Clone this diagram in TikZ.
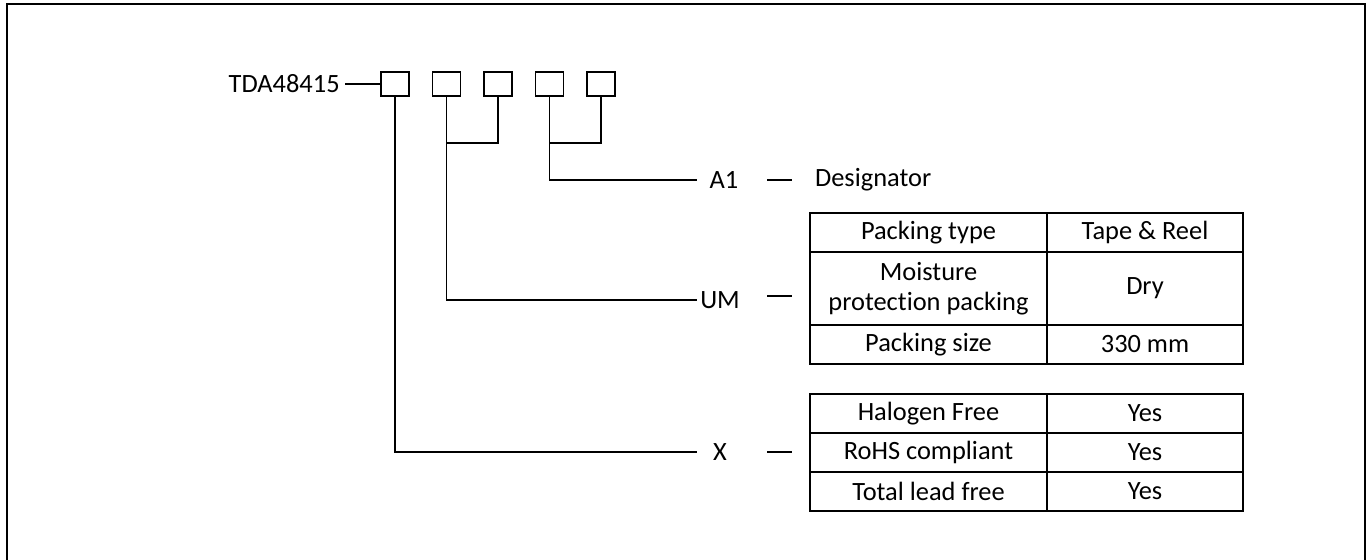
\documentclass[tikz,border=0pt]{standalone}
\usepackage{fontspec}
\setmainfont{Carlito}[Ligatures=NoCommon]
\usetikzlibrary{positioning}

\begin{document}
\begin{tikzpicture}[
    x=0.5pt, y=-0.5pt,
    every node/.style={font=\fontsize{13.2}{15}\selectfont},
    digit/.style={draw, line width=0.65pt, minimum width=14pt, minimum height=12pt, inner sep=0pt, outer sep=0pt},
    cell/.style={draw, line width=0.75pt, inner sep=0pt, outer sep=0pt, align=center, minimum height=19.5pt},
    lcell/.style={cell, minimum width=118.5pt},
    rcell/.style={cell, minimum width=98pt},
    wire/.style={line width=0.65pt},
]
\useasboundingbox (0,0) rectangle (1370,560);
\draw[line width=1pt] (7,4) rectangle (1365,570);

% part number and the five code boxes
\node[digit] (b1) at (395,84) {};
\node[digit, right=11.75pt of b1] (b2) {};
\node[digit, right=11.75pt of b2] (b3) {};
\node[digit, right=11.75pt of b3] (b4) {};
\node[digit, right=11.75pt of b4] (b5) {};
\node[inner sep=2.5pt, left=18pt of b1] (pn) {TDA48415};
\draw[wire] (pn) -- (b1);

% code labels
\node (lA) at (724,180) {A1};
\node (lUM) at (720,300) {UM};
\node (lX) at (720,452) {X};
\coordinate (eA) at (697,180);
\coordinate (eUM) at (697,300);
\coordinate (eX) at (697,452);

\draw[wire] (b1.south) |- (eX);
\draw[wire] (b2.south) |- (eUM);
\draw[wire] (b3.south) |- (b2 |- 0,143);
\draw[wire] (b4.south) |- (eA);
\draw[wire] (b5.south) |- (b4 |- 0,143);

\coordinate (dA) at (767,180);
\coordinate (dUM) at (767,296);
\coordinate (dX) at (767,452);
\draw[wire] (dA) -- ++(25,0);
\draw[wire] (dUM) -- ++(25,0);
\draw[wire] (dX) -- ++(25,0);

\node[anchor=west] (des) at (808,180) {Designator};

% packing table
\node[lcell, anchor=north west] (pt) at (810,213) {Packing type};
\node[rcell, right=0pt of pt] (ptv) {Tape \& Reel};
\node[lcell, minimum height=36.5pt, below=0pt of pt] (mp) {Moisture\\protection packing};
\node[rcell, minimum height=36.5pt, below=0pt of ptv] (mpv) {Dry};
\node[lcell, below=0pt of mp] (ps) {Packing size};
\node[rcell, below=0pt of mpv] (psv) {330 mm};

% environmental table
\node[lcell, anchor=north west] (hf) at (810,394) {Halogen Free};
\node[rcell, right=0pt of hf] (hfv) {Yes};
\node[lcell, below=0pt of hf] (rc) {RoHS compliant};
\node[rcell, below=0pt of hfv] (rcv) {Yes};
\node[lcell, below=0pt of rc] (tl) {Total lead free};
\node[rcell, below=0pt of rcv] (tlv) {Yes};
\end{tikzpicture}
\end{document}
